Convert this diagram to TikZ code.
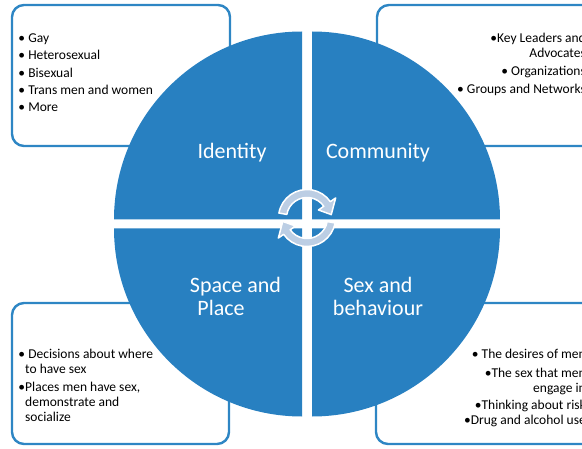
\documentclass[tikz,border=0pt]{standalone}
\usepackage{fontspec}
\setmainfont{Carlito}
\usepackage{xcolor}
\usepackage{tikz}
\usetikzlibrary{calc}
\definecolor{quadblue}{RGB}{40,128,193}
\definecolor{boxblue}{RGB}{46,134,196}
\definecolor{cyclefill}{RGB}{188,206,228}

\begin{document}
\begin{tikzpicture}[x=1pt,y=1pt,
  infobox/.style={draw=boxblue,line width=2.4pt,rounded corners=12pt,fill=white},
  quadrant/.style={fill=quadblue},
  quadlabel/.style={text=white,inner sep=0pt,font=\fontsize{22}{23.5}\selectfont},
  itemlist/.style={inner sep=0pt,font=\fontsize{13.5}{14.8}\selectfont},
  cyclearrow/.style={fill=cyclefill,draw=white,line width=1.5pt,line join=round}]
  \useasboundingbox (0,0) rectangle (582,448);
  % boxes behind the circle
  \draw[infobox] (12,302) rectangle (230,443);
  \draw[infobox] (377,302) rectangle (620,443);
  \draw[infobox] (12,4) rectangle (229,145);
  \draw[infobox] (376,4) rectangle (620,145);
  % four quarters of the circle
  \coordinate (tl) at (302,228.5);
  \coordinate (tr) at (312,228.5);
  \coordinate (bl) at (302,219.5);
  \coordinate (br) at (312,219.5);
  \fill[quadrant] (tl) -- ++(180:188) arc[start angle=180,end angle=90,radius=188] -- cycle;
  \fill[quadrant] (tr) -- ++(90:188) arc[start angle=90,end angle=0,radius=188] -- cycle;
  \fill[quadrant] (bl) -- ++(270:188) arc[start angle=270,end angle=180,radius=188] -- cycle;
  \fill[quadrant] (br) -- ++(0:188) arc[start angle=0,end angle=-90,radius=188] -- cycle;
  % quarter labels
  \node[quadlabel] (identity) at (232,295) {Identity};
  \node[quadlabel] (community) at (378,295) {Community};
  \node[quadlabel,align=left] (space) at (235.5,151.5) {Space and\\\hspace{7.5pt}Place};
  \node[quadlabel,align=center] (sex) at (378,151.5) {Sex and\\behaviour};
  % cycle arrows in the middle
  \coordinate (mid) at (307,226.5);
  \coordinate (c1) at (307,230);
  \filldraw[cyclearrow] ($(c1)+(170:28.5)$) arc[start angle=170,end angle=35,radius=28.5]
    -- ($(c1)+(35:35)$) -- ($(c1)+(8:24.5)$) -- ($(c1)+(35:14)$)
    -- ($(c1)+(35:20.5)$) arc[start angle=35,end angle=170,radius=20.5] -- cycle;
  \begin{scope}[rotate around={180:(mid)}]
    \filldraw[cyclearrow] ($(c1)+(170:28.5)$) arc[start angle=170,end angle=35,radius=28.5]
      -- ($(c1)+(35:35)$) -- ($(c1)+(8:24.5)$) -- ($(c1)+(35:14)$)
      -- ($(c1)+(35:20.5)$) arc[start angle=35,end angle=170,radius=20.5] -- cycle;
  \end{scope}
  % box texts
  \node[itemlist,align=left,anchor=north west,font=\fontsize{13.5}{17.3}\selectfont]
    (identity items) at (18.3,414.4)
    {• Gay\\• Heterosexual\\• Bisexual\\• Trans men and women\\• More};
  \node[itemlist,align=right,anchor=north east] (community items) at (586,414.7)
    {•Key Leaders and\\Advocates\\[3pt]• Organizations\\[3pt]• Groups and Networks};
  \node[itemlist,align=left,anchor=north west] (space items) at (18.3,98.7)
    {• Decisions about where\\\hspace{6.7pt}to have sex\\[3pt]•Places men have sex,\\\hspace{6.7pt}demonstrate and\\\hspace{6.7pt}socialize};
  \node[itemlist,align=right,anchor=north east] (sex items) at (586,98.7)
    {• The desires of men\\[4pt]•The sex that men\\engage in\\[2pt]•Thinking about risk\\[0.5pt]•Drug and alcohol use};
\end{tikzpicture}
\end{document}
